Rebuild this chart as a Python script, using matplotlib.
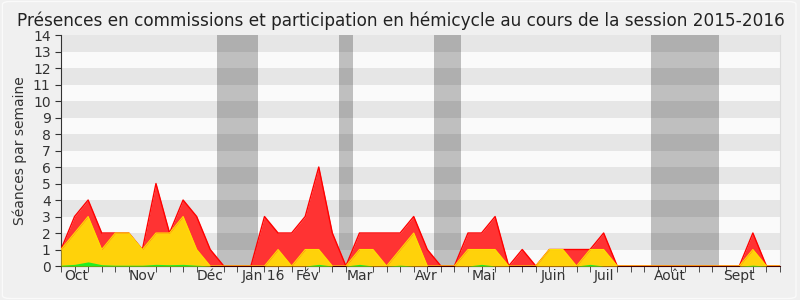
import matplotlib
matplotlib.use("Agg")
import matplotlib.pyplot as plt
from matplotlib.patches import FancyBboxPatch
import numpy as np

weeks = list(range(54))
total = [1, 3, 4, 2, 2, 2, 1, 5, 2, 4, 3, 1, 0, 0, 0, 3, 2, 2, 3, 6,
         2, 0, 2, 2, 2, 2, 3, 1, 0, 0, 2, 2, 3, 0, 1, 0, 1, 1, 1, 1,
         2, 0, 0, 0, 0, 0, 0, 0, 0, 0, 0, 2, 0, 0]
commission = [1, 2, 3, 1, 2, 2, 1, 2, 2, 3, 1, 0, 0, 0, 0, 0, 1, 0, 1, 1,
              0, 0, 1, 1, 0, 1, 2, 0, 0, 0, 1, 1, 1, 0, 0, 0, 1, 1, 0, 1,
              1, 0, 0, 0, 0, 0, 0, 0, 0, 0, 0, 1, 0, 0]
hemicycle = [0.05, 0.1, 0.25, 0.08, 0.05, 0.05, 0.05, 0.1, 0.08, 0.1, 0.05, 0, 0, 0, 0, 0, 0, 0, 0, 0.1,
             0, 0, 0.1, 0, 0, 0.05, 0, 0, 0, 0, 0, 0.1, 0, 0, 0, 0, 0, 0, 0, 0.1,
             0, 0, 0, 0, 0, 0, 0, 0, 0, 0, 0, 0.05, 0, 0]
vacations = [(11.5, 14.5), (20.5, 21.5), (27.5, 29.5), (43.5, 48.5)]
month_labels = ["Oct", "Nov", "Déc", "Jan 16", "Fév", "Mar", "Avr", "Mai", "Juin", "Juil", "Août", "Sept"]
month_pos = [1.15, 6.0, 11.0, 14.95, 18.2, 22.0, 26.9, 31.2, 36.3, 40.0, 44.9, 50.0]

fig = plt.figure(figsize=(8, 3), dpi=100, facecolor="#f0f0f0")
fig.patches.append(FancyBboxPatch((0.003, 0.005), 0.992, 0.99, boxstyle="round,pad=0,rounding_size=0.01",
                                  transform=fig.transFigure, facecolor="none", edgecolor="#fafafa", lw=1))
ax = fig.add_axes([0.07625, 0.1133, 0.89875, 0.77])
ax.set_facecolor("#fafafa")
for y in range(1, 14, 2):
    ax.axhspan(y, y + 1, color="#e6e6e6", lw=0, zorder=0)
for a, b in vacations:
    ax.axvspan(a, b, color="black", alpha=0.235, lw=0, zorder=1)

ax.fill_between(weeks, total, color="#ff3333", lw=0, zorder=2)
ax.plot(weeks, total, color="#ff0000", lw=1, zorder=3)
ax.fill_between(weeks, commission, color="#ffd20a", lw=0, zorder=4)
ax.plot(weeks, commission, color="#ffe000", lw=0.8, zorder=5)
ax.fill_between(weeks, hemicycle, color="#22ee22", lw=0, zorder=6)

ax.set_xlim(0, 53)
ax.set_ylim(0, 14)
ax.set_yticks(range(0, 15))
ax.tick_params(axis="y", labelsize=10, length=4, colors="#333333", labelcolor="#333333")
ax.set_xticks(weeks, minor=True)
ax.set_xticks(month_pos)
ax.set_xticklabels(month_labels)
ax.tick_params(axis="x", which="major", length=0, labelsize=10, labelcolor="#333333", pad=2)
ax.tick_params(axis="x", which="minor", length=4, color="#333333")
ax.spines["top"].set_visible(False)
ax.spines["right"].set_color("#dddddd")
ax.spines["left"].set_color("#333333")
ax.spines["bottom"].set_color("#440000")
ax.set_ylabel("Séances par semaine", fontsize=10, color="#333333", labelpad=4)
fig.text(0.501, 0.963, "Présences en commissions et participation en hémicycle au cours de la session 2015-2016",
         ha="center", va="top", fontsize=12.2, color="#222222")
fig.savefig("out.png", dpi=100, facecolor=fig.get_facecolor())
